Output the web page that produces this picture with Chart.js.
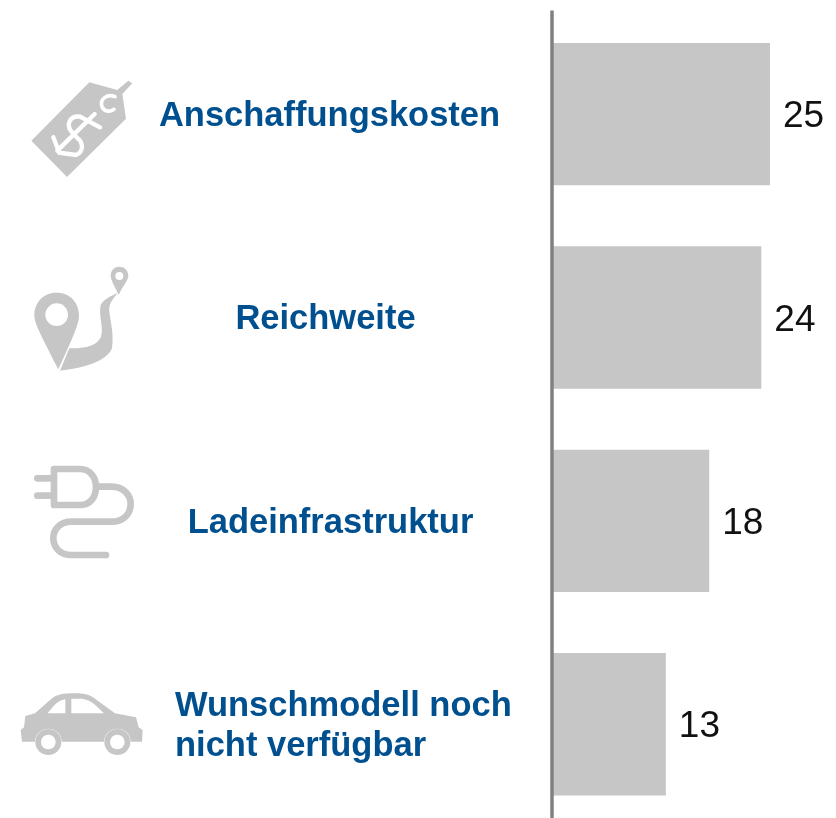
<!DOCTYPE html>
<html lang="de">
<head>
<meta charset="utf-8">
<title>Kaufhindernisse</title>
<script src="https://cdn.jsdelivr.net/npm/chart.js@4"></script>
<style>
    html, body { margin: 0; padding: 0; background: #fff; width: 836px; height: 818px; overflow: hidden; }
    #wrap { position: relative; width: 836px; height: 818px; overflow: hidden; }
    canvas { position: absolute; left: 0; top: 0; filter: blur(0.4px); }
    #icons { position: absolute; left: 0; top: 0; filter: blur(0.6px); }
</style>
</head>
<body>
<div id="wrap">
    <canvas id="barChart" width="836" height="826"></canvas>
    <svg id="icons" width="836" height="818" viewBox="0 0 836 818">
        <g transform="translate(0,40) scale(0.33333)" fill="#c6c6c6">
            <!-- price tag -->
            <path d="M268,127 L352,150 L385,122 L397,130 L367,162 L378,236 L201,411 L94,302 Z"/>
            <path d="M345,170 C322,160 298,178 306,200 C312,214 328,218 342,208" fill="none" stroke="#fff" stroke-width="11" stroke-linecap="round"/>
            <g fill="none" stroke="#fff" stroke-width="13" stroke-linecap="round">
                <path d="M160,292 L178,338 L228,345 C252,335 250,308 232,294 L212,272 C198,250 212,226 240,230 L300,262"/>
                <path d="M172,332 L284,222"/>
            </g>
            <!-- route pin -->
            <path fill-rule="evenodd" d="M170,758 C128,758 103,790 103,825 C103,850 120,880 175,988 C225,880 237,850 237,825 C237,790 212,758 170,758 Z M170,790 A34,34 0 1 0 170.1,858 A34,34 0 1 0 170,790 Z"/>
            <path d="M180,992 L208,925 C250,925 290,920 303,890 C312,860 295,830 302,795 C312,775 335,768 352,758 C340,778 325,790 328,815 C332,850 342,880 336,925 C320,965 250,985 180,992 Z"/>
            <path fill-rule="evenodd" d="M358,680 C340,680 332,694 332,708 C332,720 345,740 356,765 C367,740 385,720 385,708 C385,694 376,680 358,680 Z M358,696 A12,12 0 1 0 358.1,720 A12,12 0 1 0 358,696 Z"/>
        </g>
        <g transform="translate(0,440) scale(0.33333)">
            <!-- plug -->
            <g fill="none" stroke="#c6c6c6" stroke-width="20" stroke-linecap="round" stroke-linejoin="round">
                <path d="M162,87 H240 C272,87 288,115 288,140 C288,170 272,195 240,195 H162 Z"/>
                <path d="M112,115 H160 M112,167 H160"/>
                <path d="M295,140 H335 C370,140 392,165 392,192 C392,222 370,245 335,245 H215 C180,245 160,268 160,295 C160,322 180,345 215,345 H318"/>
            </g>
            <!-- car -->
            <path fill="#c6c6c6" fill-rule="evenodd" d="M62,870 L72,862 L76,828 L105,820 L150,780 C170,762 190,760 225,760 C262,760 275,768 290,780 L345,820 L408,832 L416,862 L428,870 L426,905 L66,905 Z M143,820 L196,820 L196,778 C170,782 160,800 143,820 Z M214,820 L312,820 C290,798 275,780 245,776 L214,776 Z"/>
            <circle cx="145" cy="906" r="40" fill="#fff"/>
            <circle cx="352" cy="906" r="40" fill="#fff"/>
            <circle cx="145" cy="906" r="39" fill="#c6c6c6"/>
            <circle cx="145" cy="906" r="22" fill="#fff"/>
            <circle cx="352" cy="906" r="39" fill="#c6c6c6"/>
            <circle cx="352" cy="906" r="22" fill="#fff"/>
        </g>
    </svg>
</div>
<script>
const categories = ['Anschaffungskosten', 'Reichweite', 'Ladeinfrastruktur', ['Wunschmodell noch', 'nicht verfügbar']];
const values = [25, 24, 18, 13];

const BLUE = '#00508f';
const GREY = '#c6c6c6';
const AXIS_GREY = '#808080';
const labelFont = 'bold 34.5px "Liberation Sans", Arial, sans-serif';
const valueFont = '37px "Liberation Sans", Arial, sans-serif';
const labelX = [329.5, 325.5, 330.5, 175];
const labelAlign = ['center', 'center', 'center', 'left'];
const labelDy = [11.5, 11, 12.5, -8.5];
const LINE_GAP = 40;

const sidePlugin = {
    id: 'sideLabels',
    afterDatasetsDraw(chart) {
        const ctx = chart.ctx;
        const y = chart.scales.y;
        const x0 = chart.scales.x.getPixelForValue(0);
        const bars = chart.getDatasetMeta(0).data;

        // axis line, starts a little above the plot
        ctx.save();
        ctx.strokeStyle = AXIS_GREY;
        ctx.lineWidth = 3.5;
        ctx.beginPath();
        ctx.moveTo(x0 - 1, y.top - 2);
        ctx.lineTo(x0 - 1, y.bottom);
        ctx.stroke();

        // category text left of the axis
        ctx.fillStyle = BLUE;
        ctx.font = labelFont;
        ctx.textBaseline = 'alphabetic';
        categories.forEach((cat, i) => {
            const base = y.getPixelForValue(i) + labelDy[i];
            ctx.textAlign = labelAlign[i];
            [].concat(cat).forEach((line, n) => {
                ctx.fillText(line, labelX[i], base + n * LINE_GAP);
            });
        });

        // value next to each bar
        ctx.fillStyle = '#111';
        ctx.font = valueFont;
        ctx.textAlign = 'left';
        values.forEach((v, i) => {
            ctx.fillText(String(v), bars[i].x + 13, bars[i].y + 13);
        });
        ctx.restore();
    }
};

new Chart(document.getElementById('barChart').getContext('2d'), {
    type: 'bar',
    data: {
        labels: categories,
        datasets: [{
            data: values,
            backgroundColor: GREY,
            borderWidth: 0,
            barPercentage: 0.7,
            categoryPercentage: 1
        }]
    },
    options: {
        indexAxis: 'y',
        responsive: false,
        animation: false,
        layout: { padding: { left: 553, top: 12.4, right: 0, bottom: 0 } },
        plugins: { legend: { display: false }, tooltip: { enabled: false } },
        scales: {
            x: { display: false, min: 0, max: 32.6 },
            y: { display: false }
        }
    },
    plugins: [sidePlugin]
});
</script>
</body>
</html>
